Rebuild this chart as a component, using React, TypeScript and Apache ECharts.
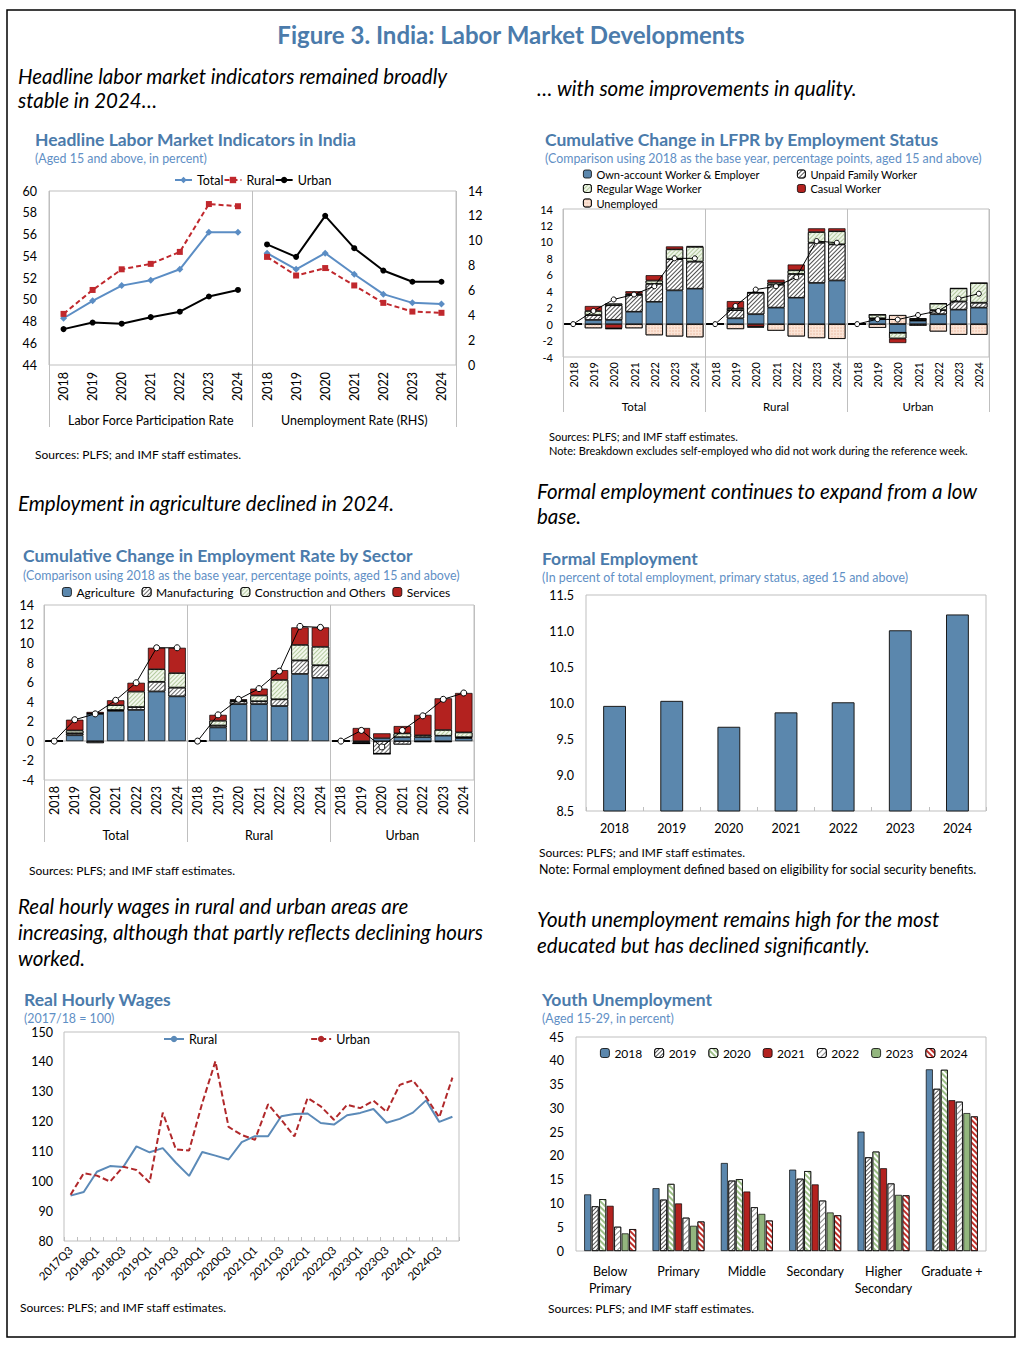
import React, { useEffect, useRef } from 'react';
import * as echarts from 'echarts';

const FONT = 'Lato';
const TITLE_BLUE = '#4b7bab';
const SUB_BLUE = '#5f8fc5';
const BAR_BLUE = '#5b87ad';
const DARK_RED = '#b3221f';
const GREEN = '#93b67e';
const GRID_GRAY = '#bfbfbf';

const years = ['2018', '2019', '2020', '2021', '2022', '2023', '2024'];

// Panel 1: headline indicators
const headlineGroups = ['Labor Force Participation Rate', 'Unemployment Rate (RHS)'];
const lfprTotal = [48.3, 49.9, 51.3, 51.8, 52.8, 56.2, 56.2];
const lfprRural = [48.7, 50.9, 52.8, 53.3, 54.4, 58.8, 58.6];
const lfprUrban = [47.3, 47.9, 47.8, 48.4, 48.9, 50.3, 50.9];
const urTotal = [9.0, 7.7, 9.0, 7.3, 5.7, 5.0, 4.9];
const urRural = [8.7, 7.2, 7.8, 6.4, 5.0, 4.3, 4.2];
const urUrban = [9.7, 8.7, 12.0, 9.4, 7.6, 6.7, 6.7];

// Panel 2: LFPR by employment status (Total 2018-24 | Rural 2018-24 | Urban 2018-24)
const areaGroups = ['Total', 'Rural', 'Urban'];
const ownAccount = [0, 0.5, 0.5, 1.5, 2.7, 4.1, 4.3, 0, 0.7, 1.2, 2.0, 3.2, 5.0, 5.3, 0, 0.6, -1.05, 0.4, 1.2, 1.75, 2.0];
const unpaidFamily = [0, 0.6, 1.8, 2.05, 2.2, 3.8, 3.3, 0, 1.0, 2.6, 2.8, 2.9, 4.9, 4.4, 0, 0.1, 0, 0.1, 0.5, 1.0, 0.6];
const regularWage = [0, 0.5, 0.2, 0.15, 0.4, 1.2, 1.8, 0, 0.25, 0.1, 0.25, 0.45, 1.3, 1.6, 0, 0.45, -0.7, 0.15, 0.8, 1.6, 2.4];
const casualWorker = [0, 0.6, -0.5, 0.3, 0.65, 0.35, 0.1, 0, 0.85, -0.3, 0.35, 0.7, 0.45, 0.35, 0, 0, -0.55, 0.05, 0, 0, 0];
const unemployed = [0, -0.5, -0.1, -0.5, -1.35, -1.5, -1.6, 0, -0.6, -0.1, -0.8, -1.5, -1.7, -1.8, 0, -0.45, 1.1, -0.2, -0.9, -1.3, -1.3];
const lfprChangeTotal = [0, 1.6, 3.0, 3.6, 4.6, 8.0, 8.0];
const lfprChangeRural = [0, 2.2, 4.2, 4.6, 5.7, 10.1, 9.9];
const lfprChangeUrban = [0, 0.6, 0.55, 1.1, 1.6, 3.1, 3.7];

// Panel 3: employment rate by sector (Total | Rural | Urban)
const agriculture = [0, 0.6, 2.8, 3.1, 3.2, 5.1, 4.6, 0, 1.4, 3.8, 3.8, 3.6, 6.9, 6.5, 0, -0.1, 0.3, 0.4, 0.4, 0.55, 0.3];
const manufacturing = [0, 0.2, -0.2, 0.1, 0.3, 1.0, 0.9, 0, 0.2, 0.3, 0.3, 0.7, 1.4, 1.3, 0, -0.15, -1.3, -0.35, -0.1, -0.1, 0.1];
const construction = [0, 0.3, 0.05, 0.5, 1.6, 1.3, 1.5, 0, 0.5, 0.1, 0.6, 2.0, 1.6, 1.9, 0, 0, 0, 0.4, 0.2, 0.6, 0.5];
const services = [0, 1.1, 0.15, 0.5, 0.9, 2.2, 2.6, 0, 0.6, 0.1, 0.7, 1.0, 1.8, 2.0, 0, 1.35, 0.5, 0.75, 2.1, 3.25, 4.05];
const empChangeTotal = [0, 2.2, 2.8, 4.2, 6.0, 9.6, 9.6];
const empChangeRural = [0, 2.7, 4.3, 5.4, 7.2, 11.8, 11.7];
const empChangeUrban = [0, 1.1, -0.6, 1.1, 2.6, 4.3, 4.95];

// Panel 4: formal employment
const formalShare = [9.96, 10.03, 9.67, 9.87, 10.01, 11.01, 11.23];

// Panel 5: real hourly wages
const quarters = [
  '2017Q3', '2017Q4', '2018Q1', '2018Q2', '2018Q3', '2018Q4', '2019Q1', '2019Q2', '2019Q3', '2019Q4',
  '2020Q1', '2020Q2', '2020Q3', '2020Q4', '2021Q1', '2021Q2', '2021Q3', '2021Q4', '2022Q1', '2022Q2',
  '2022Q3', '2022Q4', '2023Q1', '2023Q2', '2023Q3', '2023Q4', '2024Q1', '2024Q2', '2024Q3', '2024Q4',
];
const wageRural = [95.2, 96.4, 103.2, 105.1, 104.8, 111.7, 109.7, 111.1, 106.2, 101.8, 109.8, 108.6, 107.3, 113.1, 115.1, 115.1, 121.8, 122.5, 122.7, 119.5, 119.0, 122.1, 122.9, 124.2, 119.6, 120.9, 123.0, 127.1, 119.9, 121.6];
const wageUrban = [95.5, 102.7, 101.9, 99.9, 104.9, 103.8, 99.6, 123.0, 110.7, 110.3, 126.2, 140.2, 118.2, 115.5, 113.9, 125.8, 120.6, 115.0, 127.9, 125.1, 120.6, 125.6, 124.5, 127.0, 123.3, 132.3, 133.8, 128.2, 121.4, 134.7];

// Panel 6: youth unemployment
const eduLevels = ['Below\nPrimary', 'Primary', 'Middle', 'Secondary', 'Higher\nSecondary', 'Graduate +'];
const youth2018 = [11.9, 13.2, 18.5, 17.1, 25.1, 38.2];
const youth2019 = [9.4, 10.8, 14.8, 15.2, 19.7, 34.1];
const youth2020 = [10.9, 14.1, 15.1, 16.8, 20.9, 38.1];
const youth2021 = [9.5, 10.0, 12.5, 14.0, 17.4, 31.7];
const youth2022 = [5.1, 7.0, 9.2, 10.6, 14.2, 31.4];
const youth2023 = [3.7, 5.3, 7.8, 8.1, 11.8, 29.0];
const youth2024 = [4.6, 6.2, 6.4, 7.5, 11.7, 28.3];

const headlineCats = ['L', 'U'].flatMap((p) => years.map((y) => p + '|' + y));
const groupedCats = areaGroups.flatMap((g) => years.map((y) => g + '|' + y));
const stripLabel = (v: string) => v.split('|')[1];

const inGroup = (vals: number[], g: number, n: number) =>
  Array.from({ length: n * 7 }, (_, i) => (Math.floor(i / 7) === g ? vals[i % 7] : '-'));

const stripe = (color: string, width: number, gap: number, rot = -Math.PI / 4) => ({
  symbol: 'rect',
  symbolSize: 1,
  dashArrayX: [1, 0],
  dashArrayY: [width, gap],
  rotation: rot,
  color,
});

const T = (text: string, x: number, y: number, font: string, fill = '#000', align = 'left') => ({
  type: 'text',
  silent: true,
  style: { text, x, y, font, fill, align, verticalAlign: 'middle', textAlign: align, textVerticalAlign: 'middle' },
});

const italic = `italic 20.5px ${FONT}`;
const titleFont = `bold 17.5px ${FONT}`;
const subFont = `12.4px ${FONT}`;
const srcFont = `12px ${FONT}`;
const SRC = 'Sources: PLFS; and IMF staff estimates.';
const SUB_CMP = '(Comparison using 2018 as the base year, percentage points, aged 15 and above)';

function buildOption() {
  const graphic: any[] = [
    { type: 'rect', silent: true, shape: { x: 7, y: 10, width: 1008, height: 1327 }, style: { fill: 'none', stroke: '#000', lineWidth: 1.5 } },
    T('Figure 3. India: Labor Market Developments', 511, 34, `bold 24px ${FONT}`, TITLE_BLUE, 'center'),
    T('Headline labor market indicators remained broadly', 18, 76, italic),
    T('stable in 2024…', 18, 100, italic),
    T('… with some improvements in quality.', 537, 88, italic),
    T('Employment in agriculture declined in 2024.', 18, 503, italic),
    T('Formal employment continues to expand from a low', 537, 491, italic),
    T('base.', 537, 516, italic),
    T('Real hourly wages in rural and urban areas are', 18, 906, italic),
    T('increasing, although that partly reflects declining hours', 18, 932, italic),
    T('worked.', 18, 958, italic),
    T('Youth unemployment remains high for the most', 537, 919, italic),
    T('educated but has declined significantly.', 537, 945, italic),

    T('Headline Labor Market Indicators in India', 35, 139, titleFont, TITLE_BLUE),
    T('(Aged 15 and above, in percent)', 35, 158, subFont, SUB_BLUE),
    T('Cumulative Change in LFPR by Employment Status', 545, 139, titleFont, TITLE_BLUE),
    T(SUB_CMP, 545, 158, `12.4px ${FONT}`, SUB_BLUE),
    T('Cumulative Change in Employment Rate by Sector', 23, 555, titleFont, TITLE_BLUE),
    T(SUB_CMP, 23, 575, `12.4px ${FONT}`, SUB_BLUE),
    T('Formal Employment', 542, 558, titleFont, TITLE_BLUE),
    T('(In percent of total employment, primary status, aged 15 and above)', 542, 577, subFont, SUB_BLUE),
    T('Real Hourly Wages', 24, 999, titleFont, TITLE_BLUE),
    T('(2017/18 = 100)', 24, 1018, subFont, SUB_BLUE),
    T('Youth Unemployment', 542, 999, titleFont, TITLE_BLUE),
    T('(Aged 15-29, in percent)', 542, 1018, subFont, SUB_BLUE),

    T(SRC, 35, 454, srcFont),
    T(SRC, 549, 436, `11px ${FONT}`),
    T('Note: Breakdown excludes self-employed who did not work during the reference week.', 549, 450, `11px ${FONT}`),
    T(SRC, 29, 870, srcFont),
    T(SRC, 539, 852, srcFont),
    T('Note: Formal employment defined based on eligibility for social security benefits.', 539, 869, `12.4px ${FONT}`),
    T(SRC, 20, 1307, srcFont),
    T(SRC, 548, 1308, srcFont),
  ];

  const gridBase = { show: true, borderColor: GRID_GRAY, borderWidth: 1, containLabel: false };
  const grid = [
    { ...gridBase, left: 49, top: 191, width: 407, height: 174 },
    { ...gridBase, left: 563, top: 209, width: 426, height: 148 },
    { ...gridBase, left: 44, top: 605, width: 430, height: 175 },
    { ...gridBase, left: 586, top: 595, width: 400, height: 216 },
    { ...gridBase, left: 64, top: 1032, width: 395, height: 209 },
    { ...gridBase, left: 576, top: 1037, width: 410, height: 214 },
  ];

  const lbl = (size: number, extra: any = {}) => ({ color: '#000', fontSize: size, fontFamily: FONT, ...extra });
  const yearAxis = (gi: number, cats: string[], size: number, margin: number) => ({
    type: 'category', gridIndex: gi, data: cats, position: 'bottom',
    axisLine: { show: false }, axisTick: { show: false },
    axisLabel: lbl(size, { rotate: 90, margin, interval: 0, formatter: stripLabel }),
  });
  const groupAxis = (gi: number, cats: string[], size: number, tickLen: number, margin: number) => ({
    type: 'category', gridIndex: gi, data: cats, position: 'bottom',
    axisLine: { show: false },
    axisTick: { show: true, interval: 0, length: tickLen, lineStyle: { color: GRID_GRAY, width: 1 } },
    splitLine: { show: true, interval: 0, lineStyle: { color: GRID_GRAY, width: 1 } },
    axisLabel: lbl(size, { margin, interval: 0 }),
  });

  const xAxis = [
    yearAxis(0, headlineCats, 12.5, 7),
    groupAxis(0, headlineGroups, 12.5, 62, 49),
    yearAxis(1, groupedCats, 11, 5),
    groupAxis(1, areaGroups, 11.5, 55, 43),
    yearAxis(2, groupedCats, 12.5, 6),
    groupAxis(2, areaGroups, 12.5, 62, 49),
    {
      type: 'category', gridIndex: 3, data: years,
      axisLine: { show: false },
      axisTick: { show: true, inside: true, length: 4, lineStyle: { color: GRID_GRAY } },
      axisLabel: lbl(12.5, { margin: 11 }),
    },
    {
      type: 'category', gridIndex: 4, data: quarters,
      axisLine: { show: false },
      axisTick: { show: true, inside: true, interval: 0, length: 4, lineStyle: { color: GRID_GRAY } },
      axisLabel: lbl(11.5, { rotate: 45, interval: 1, margin: 7 }),
    },
    {
      type: 'category', gridIndex: 5, data: eduLevels,
      axisLine: { show: false }, axisTick: { show: false },
      axisLabel: lbl(12.5, { margin: 12, interval: 0, lineHeight: 17 }),
    },
  ];

  const valAxis = (gi: number, min: number, max: number, interval: number, size: number, margin: number, extra: any = {}) => ({
    type: 'value', gridIndex: gi, min, max, interval,
    axisLine: { show: false }, axisTick: { show: false }, splitLine: { show: false },
    axisLabel: lbl(size, { margin }),
    ...extra,
  });

  const yAxis = [
    valAxis(0, 44, 60, 2, 12.5, 12, { position: 'left' }),
    valAxis(0, 0, 14, 2, 12.5, 12, { position: 'right' }),
    valAxis(1, -4, 14, 2, 11, 10),
    valAxis(2, -4, 14, 2, 12.5, 10),
    valAxis(3, 8.5, 11.5, 0.5, 12.5, 12, { axisLabel: lbl(12.5, { margin: 12, formatter: (v: number) => v.toFixed(1) }) }),
    valAxis(4, 80, 150, 10, 12.5, 11),
    valAxis(5, 0, 45, 5, 12.5, 12),
  ];

  const p1Line = (name: string, vals: number[], g: number, color: string, symbol: string, size: number, dashed: boolean) => ({
    name, type: 'line', xAxisIndex: 0, yAxisIndex: g, data: inGroup(vals, g, 2),
    symbol, symbolSize: size, itemStyle: { color },
    lineStyle: { color, width: 2, type: dashed ? [5, 3] : 'solid' },
  });

  const zeroLine = {
    silent: true, symbol: 'none', z: 1, label: { show: false },
    lineStyle: { color: GRID_GRAY, width: 1.5, type: 'solid' },
    data: [{ yAxis: 0 }],
  };

  const stackBar = (name: string, data: number[], xi: number, yi: number, stack: string, color: string, decal?: any, extra: any = {}) => ({
    name, type: 'bar', stack, xAxisIndex: xi, yAxisIndex: yi, data,
    barCategoryGap: '15%',
    itemStyle: { color, borderColor: '#000', borderWidth: 0.7, ...(decal ? { decal } : {}) },
    ...extra,
  });

  const chgLine = (name: string, vals: number[], g: number, xi: number, yi: number, size: number) => ({
    name, type: 'line', xAxisIndex: xi, yAxisIndex: yi, data: inGroup(vals, g, 3),
    symbol: 'circle', symbolSize: size, z: 4,
    itemStyle: { color: '#fff', borderColor: '#000', borderWidth: 1 },
    lineStyle: { color: '#000', width: 1 },
  });

  const grayDense = stripe('#505050', 1, 1.3);
  const greenLight = stripe('#b5cba0', 1, 2);
  const peachDots = { symbol: 'circle', symbolSize: 0.7, dashArrayX: [2, 1], dashArrayY: [2, 1], rotation: 0, color: '#e9b79d' };

  const youthBar = (name: string, data: number[], color: string, decal?: any) => ({
    name, type: 'bar', xAxisIndex: 8, yAxisIndex: 6, data,
    barGap: '8%', barCategoryGap: '24%',
    itemStyle: { color, borderColor: '#000', borderWidth: 0.7, ...(decal ? { decal } : {}) },
  });

  const series: any[] = [
    // Panel 1
    p1Line('Total', lfprTotal, 0, '#5b8dc4', 'diamond', 7, false),
    p1Line('Total', urTotal, 1, '#5b8dc4', 'diamond', 7, false),
    p1Line('Rural', lfprRural, 0, '#c0282d', 'rect', 6, true),
    p1Line('Rural', urRural, 1, '#c0282d', 'rect', 6, true),
    p1Line('Urban', lfprUrban, 0, '#000000', 'circle', 6, false),
    p1Line('Urban', urUrban, 1, '#000000', 'circle', 6, false),

    // Panel 2
    stackBar('Own-account Worker & Employer', ownAccount, 2, 2, 'status', BAR_BLUE, undefined, { markLine: zeroLine }),
    stackBar('Unpaid Family Worker', unpaidFamily, 2, 2, 'status', '#ffffff', grayDense),
    stackBar('Regular Wage Worker', regularWage, 2, 2, 'status', '#eef5e8', greenLight),
    stackBar('Casual Worker', casualWorker, 2, 2, 'status', DARK_RED),
    stackBar('Unemployed', unemployed, 2, 2, 'status', '#fbe4d6', peachDots),
    chgLine('lfprT', lfprChangeTotal, 0, 2, 2, 5),
    chgLine('lfprR', lfprChangeRural, 1, 2, 2, 5),
    chgLine('lfprU', lfprChangeUrban, 2, 2, 2, 5),

    // Panel 3
    stackBar('Agriculture', agriculture, 4, 3, 'sector', BAR_BLUE, undefined, { markLine: zeroLine }),
    stackBar('Manufacturing', manufacturing, 4, 3, 'sector', '#ffffff', stripe('#6a6a6a', 1, 1.6)),
    stackBar('Construction and Others', construction, 4, 3, 'sector', '#f2f7ec', greenLight),
    stackBar('Services', services, 4, 3, 'sector', DARK_RED),
    chgLine('empT', empChangeTotal, 0, 4, 3, 6),
    chgLine('empR', empChangeRural, 1, 4, 3, 6),
    chgLine('empU', empChangeUrban, 2, 4, 3, 6),

    // Panel 4
    {
      name: 'Formal', type: 'bar', xAxisIndex: 6, yAxisIndex: 4, data: formalShare, barWidth: '40%',
      itemStyle: { color: BAR_BLUE, borderColor: '#1a1a1a', borderWidth: 1 },
    },

    // Panel 5
    {
      name: 'wRural', type: 'line', xAxisIndex: 7, yAxisIndex: 5, data: wageRural, symbol: 'none',
      itemStyle: { color: '#5b8ab8' }, lineStyle: { color: '#5b8ab8', width: 2 },
    },
    {
      name: 'wUrban', type: 'line', xAxisIndex: 7, yAxisIndex: 5, data: wageUrban, symbol: 'none',
      itemStyle: { color: '#b0282a' }, lineStyle: { color: '#b0282a', width: 2, type: [6, 3] },
    },

    // Panel 6
    youthBar('2018', youth2018, BAR_BLUE),
    youthBar('2019', youth2019, '#ffffff', stripe('#555555', 1, 1.3)),
    youthBar('2020', youth2020, '#ffffff', stripe('#9cbf86', 1.2, 1.8, Math.PI / 4)),
    youthBar('2021', youth2021, DARK_RED),
    youthBar('2022', youth2022, '#ffffff', stripe('#8a8a8a', 1, 2.2)),
    youthBar('2023', youth2023, GREEN),
    youthBar('2024', youth2024, '#ffffff', stripe('#c0302a', 1.2, 1.8, Math.PI / 4)),
  ];

  const legText = (size: number) => ({ color: '#000', fontSize: size, fontFamily: FONT, lineHeight: 14 });
  const legend = [
    { data: ['Total', 'Rural', 'Urban'], left: 174, top: 173, padding: 0, itemWidth: 17, itemHeight: 8, itemGap: 0, textStyle: legText(12.5) },
    {
      data: ['Own-account Worker & Employer', 'Regular Wage Worker', 'Unemployed'], orient: 'vertical', left: 583, top: 167,
      padding: 0, itemWidth: 8, itemHeight: 8, itemGap: 0.5, textStyle: legText(11), itemStyle: { borderWidth: 0.8 },
    },
    {
      data: ['Unpaid Family Worker', 'Casual Worker'], orient: 'vertical', left: 797, top: 167,
      padding: 0, itemWidth: 8, itemHeight: 8, itemGap: 0.5, textStyle: legText(11), itemStyle: { borderWidth: 0.8 },
    },
    {
      data: ['Agriculture', 'Manufacturing', 'Construction and Others', 'Services'], left: 62, top: 585,
      padding: 0, itemWidth: 9, itemHeight: 9, itemGap: 7, textStyle: legText(12), itemStyle: { borderWidth: 0.8 },
    },
    {
      data: ['wRural', 'wUrban'], left: 163, top: 1032, padding: 0, itemWidth: 20, itemHeight: 8, itemGap: 93,
      textStyle: legText(12.5), formatter: (n: string) => (n === 'wRural' ? 'Rural' : 'Urban'),
    },
    {
      data: ['2018', '2019', '2020', '2021', '2022', '2023', '2024'], left: 600, top: 1046, padding: 0,
      itemWidth: 9, itemHeight: 9, itemGap: 12, textStyle: legText(12), itemStyle: { borderWidth: 0.8 },
    },
  ];

  return {
    animation: false,
    backgroundColor: '#ffffff',
    textStyle: { fontFamily: FONT },
    graphic,
    grid,
    xAxis,
    yAxis,
    legend,
    series,
  };
}

export default function App() {
  const ref = useRef<HTMLDivElement>(null);
  useEffect(() => {
    if (!ref.current) return;
    const chart = echarts.init(ref.current, undefined, { renderer: 'svg' });
    chart.setOption(buildOption() as any);
    return () => chart.dispose();
  }, []);
  return (
    <div
      ref={ref}
      style={{ position: 'absolute', left: 0, top: 0, width: 1022, height: 1346, background: '#fff' }}
    />
  );
}
